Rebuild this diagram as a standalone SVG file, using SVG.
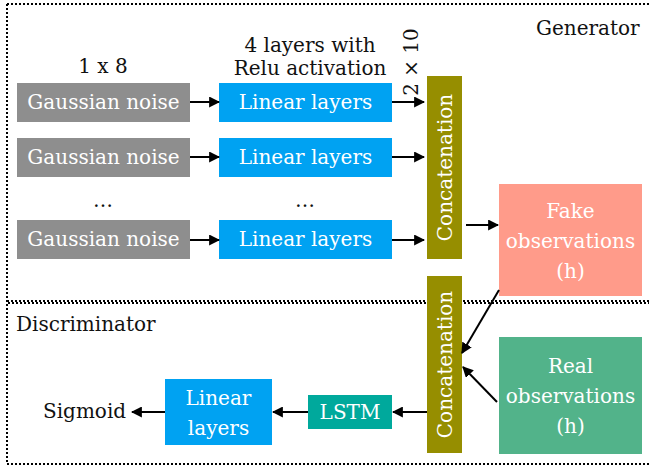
<svg xmlns="http://www.w3.org/2000/svg" width="649" height="470" viewBox="0 0 649 470">
<defs>
<style>
text{font-family:"DejaVu Serif","Liberation Serif",serif;font-size:20px;fill:#111}
.w{fill:#fff;text-anchor:middle}
.c{text-anchor:middle}
.conn line{stroke:#000;stroke-width:2;marker-end:url(#ah)}
.dot{stroke:#000;stroke-width:2;stroke-dasharray:2 2;fill:none}
.gray{fill:#8E8E8E}.blue{fill:#00A2F2}.olive{fill:#968E00}
</style>
<marker id="ah" viewBox="0 0 10 10" refX="9" refY="5" markerWidth="5.5" markerHeight="5.5" orient="auto" markerUnits="strokeWidth">
<path d="M0,0 L10,5 L0,10 z" fill="#000"/>
</marker>
</defs>
<rect width="649" height="470" fill="#fff"/>
<g id="frame">
<path class="dot" d="M7,4 H649 M7,4 V464 M7,464 H649"/>
<path class="dot" d="M7,301 H649"/>
<path class="dot" d="M8,303 H649"/>
</g>
<text x="536" y="35">Generator</text>
<text x="16" y="331">Discriminator</text>
<text class="c" x="103" y="73">1 x 8</text>
<text class="c" x="310" y="52">4 layers with</text>
<text class="c" x="310" y="75">Relu activation</text>
<text class="c" transform="translate(418,62) rotate(-90)">2 × 10</text>
<text class="c" x="103" y="207">…</text>
<text class="c" x="305" y="207">…</text>
<g id="noise1"><rect class="gray" x="17" y="83" width="173" height="39"/><text class="w" x="103.5" y="109">Gaussian noise</text></g>
<g id="noise2"><rect class="gray" x="17" y="138" width="173" height="39"/><text class="w" x="103.5" y="164">Gaussian noise</text></g>
<g id="noise3"><rect class="gray" x="17" y="220" width="173" height="39"/><text class="w" x="103.5" y="246">Gaussian noise</text></g>
<g id="lin1"><rect class="blue" x="219" y="83" width="173" height="39"/><text class="w" x="305.5" y="109">Linear layers</text></g>
<g id="lin2"><rect class="blue" x="219" y="138" width="173" height="39"/><text class="w" x="305.5" y="164">Linear layers</text></g>
<g id="lin3"><rect class="blue" x="219" y="220" width="173" height="39"/><text class="w" x="305.5" y="246">Linear layers</text></g>
<g id="concat1"><rect class="olive" x="427" y="76" width="35" height="183"/><text class="w" transform="translate(452,167.5) rotate(-90)">Concatenation</text></g>
<g id="concat2"><rect class="olive" x="427" y="276" width="35" height="177"/><text class="w" transform="translate(452,364.5) rotate(-90)">Concatenation</text></g>
<g id="fake"><rect x="499" y="184" width="143" height="112" fill="#FF9B8A"/><text class="w" x="570.5" y="218">Fake</text><text class="w" x="570.5" y="248">observations</text><text class="w" x="570.5" y="278">(h)</text></g>
<g id="real"><rect x="499" y="337" width="143" height="117" fill="#52B38A"/><text class="w" x="570.5" y="373">Real</text><text class="w" x="570.5" y="403">observations</text><text class="w" x="570.5" y="433">(h)</text></g>
<g id="lstm"><rect x="308" y="395" width="84" height="34" fill="#00A99C"/><text class="w" x="350" y="419">LSTM</text></g>
<g id="dlin"><rect class="blue" x="165" y="379" width="107" height="66"/><text class="w" x="218.5" y="405">Linear</text><text class="w" x="218.5" y="435">layers</text></g>
<text id="sigmoid" x="43" y="418">Sigmoid</text>
<g class="conn">
<line x1="190" y1="102" x2="219" y2="102"/>
<line x1="190" y1="157" x2="219" y2="157"/>
<line x1="190" y1="240" x2="219" y2="240"/>
<line x1="392" y1="102" x2="424" y2="102"/>
<line x1="392" y1="157" x2="424" y2="157"/>
<line x1="392" y1="240" x2="424" y2="240"/>
<line x1="466" y1="225" x2="498" y2="225"/>
<line x1="499" y1="290" x2="462" y2="353"/>
<line x1="497" y1="402" x2="463" y2="367"/>
<line x1="427" y1="412" x2="393" y2="412"/>
<line x1="308" y1="412" x2="273" y2="412"/>
<line x1="165" y1="412" x2="132" y2="412"/>
</g>
</svg>
